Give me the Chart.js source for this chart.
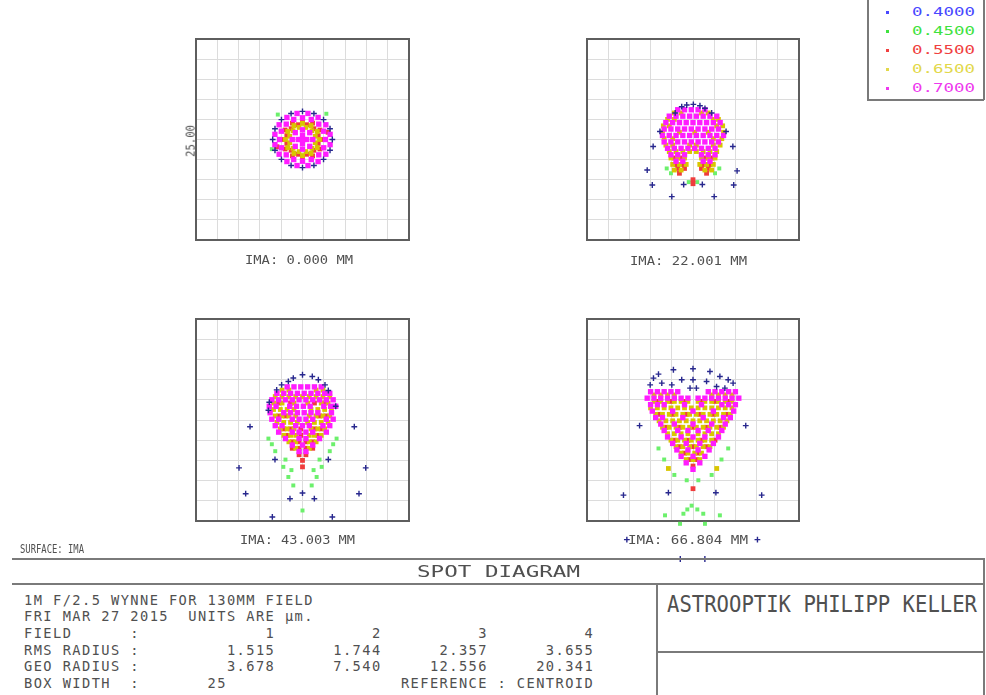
<!DOCTYPE html>
<html>
<head>
<meta charset="utf-8">
<script src="https://cdn.jsdelivr.net/npm/chart.js@4.4.1/dist/chart.umd.min.js"></script>
<style>
  html, body { margin: 0; padding: 0; background: #fff; }
  #page { position: relative; width: 986px; height: 695px; overflow: hidden; background: #fff; }
  canvas.spot { position: absolute; }
  .t { position: absolute; white-space: pre; font-family: "DejaVu Sans Mono", monospace; color: #505050; transform-origin: 0 50%; line-height: 1; }
  .rule { position: absolute; background: #7a7a7a; }
  .mk { position: absolute; }
</style>
</head>
<body>
<div id="page"></div>
<script>
// wavelengths (um) and field heights (mm)
const wavelengths = ['0.4000', '0.4500', '0.5500', '0.6500', '0.7000'];
const fieldHeights = ['0.000', '22.001', '43.003', '66.804'];
const fieldNumbers = [1, 2, 3, 4];
const rmsRadius = [1.515, 1.744, 2.357, 3.655];
const geoRadius = [3.678, 7.540, 12.556, 20.341];
const boxWidth = 25;

// ray intercepts in um, relative to the centroid
// field 1 (on axis)
const f1Blue = [[3.5,0],[3.23,1.34],[2.47,2.47],[1.34,3.23],[0,3.5],[-1.34,3.23],[-2.47,2.47],[-3.23,1.34],[-3.5,0],[-3.23,-1.34],[-2.47,-2.47],[-1.34,-3.23],[0,-3.5],[1.34,-3.23],[2.47,-2.47],[3.23,-1.34]];
const f1Green = [[-2.9,3.1],[2.8,3.2],[-3.6,-1.2]];
const f1Red = [[1.84,0.49],[1.34,1.34],[0.49,1.84],[-0.49,1.84],[-1.34,1.34],[-1.84,0.49],[-1.84,-0.49],[-1.34,-1.34],[-0.49,-1.84],[0.49,-1.84],[1.34,-1.34],[1.84,-0.49],[3.0,0.9],[-3.0,-0.9],
  [2.35,0],[2.04,1.18],[1.18,2.04],[0,2.35],[-1.18,2.04],[-2.04,1.18],[-2.35,0],[-2.04,-1.18],[-1.18,-2.04],[0,-2.35],[1.18,-2.04],[2.04,-1.18]];
const f1Yellow = [[2,0],[1.73,1],[1,1.73],[0,2],[-1,1.73],[-1.73,1],[-2,0],[-1.73,-1],[-1,-1.73],[0,-2],[1,-1.73],[1.73,-1],
  [1.5,0.4],[1.1,1.1],[0.4,1.5],[-0.4,1.5],[-1.1,1.1],[-1.5,0.4],[-1.5,-0.4],[-1.1,-1.1],[-0.4,-1.5],[0.4,-1.5],[1.1,-1.1],[1.5,-0.4]];
const f1Magenta = [[3.24,0.64],[2.74,1.83],[1.83,2.74],[0.64,3.24],[-0.64,3.24],[-1.83,2.74],[-2.74,1.83],[-3.24,0.64],[-3.24,-0.64],[-2.74,-1.83],[-1.83,-2.74],[-0.64,-3.24],[0.64,-3.24],[1.83,-2.74],[2.74,-1.83],[3.24,-0.64],
  [2.7,0],[2.49,1.03],[1.91,1.91],[1.03,2.49],[0,2.7],[-1.03,2.49],[-1.91,1.91],[-2.49,1.03],[-2.7,0],[-2.49,-1.03],[-1.91,-1.91],[-1.03,-2.49],[0,-2.7],[1.03,-2.49],[1.91,-1.91],[2.49,-1.03],
  [1.2,0],[0.85,0.85],[0,1.2],[-0.85,0.85],[-1.2,0],[-0.85,-0.85],[0,-1.2],[0.85,-0.85],[0.5,0],[0,0.5],[-0.5,0],[0,-0.5],[0,0]];

// field 2, dense parts stored as rows: [y, [x, ...]]
const f2Blue = [[-1.33,4.08],[-0.74,4.29],[0.04,4.37],[0.82,4.2],[1.41,3.88],[-2.1,3.3],[2.2,3.3],[-3.9,1.0],[3.9,1.0],[-4.7,-0.87],[4.7,-0.87],[-5.4,-3.8],[5.2,-3.9],[-4.8,-5.66],[4.8,-5.66],[-1.1,-5.6],[1.1,-5.6],[-2.5,-7.1],[2.5,-7.1]];
const f2Green = [[-2.6,-4.2],[2.6,-4.2],[-3.1,-3.6],[3.1,-3.6],[-0.5,-5.3],[0.5,-5.3]];
const f2RedRows = [[-2.3,[-2.2,-1.4,1.4,2.2]],[-3.1,[-2.0,-1.2,1.2,2.0]],[-3.6,[-1.8,-1.0,1.0,1.8]],[-4.2,[-1.6,1.6]],[-5.0,[0]],[-5.5,[0]]];
const f2YellowRows = [[3.3,[-2.2,-1.4,1.0,1.8]],[2.5,[-3.0,-2.2,2.4,3.0]],[1.7,[-3.5,-2.8,2.8,3.5]],[0.9,[-3.6,-1.6,0.2,1.8,3.6]],[0.1,[-3.4,-2.4,2.4,3.4]],[-0.7,[-3.2,-2.4,-0.4,0.4,2.4,3.2]],[-1.5,[-2.8,-2.0,-1.2,-0.4,0.4,1.2,2.0,2.8]],[-2.3,[-2.6,-1.8,-1.0,1.0,1.8,2.6]],[-3.1,[-2.4,-1.6,-0.8,0.8,1.6,2.4]],[-3.8,[-2.2,-1.4,1.4,2.2]]];
const f2MagentaRows = [[3.7,[-1.8,-1.0,-0.2,0.6,1.4]],[2.9,[-2.8,-2.0,-1.2,-0.4,0.4,1.2,2.0,2.8]],[2.1,[-3.2,-2.4,-1.6,-0.8,0,0.8,1.6,2.4,3.2]],[1.3,[-3.4,-2.6,-1.8,-1.0,-0.2,0.6,1.4,2.2,3.0]],[0.5,[-3.6,-2.8,-2.0,-1.2,-0.4,0.4,1.2,2.0,2.8,3.6]],[-0.3,[-3.4,-2.6,-1.8,-1.0,-0.2,0.6,1.4,2.2,3.0]],[-1.1,[-3.0,-2.2,-1.4,-0.6,0.2,1.0,1.8,2.6]],[-1.9,[-2.6,-1.8,-1.0,1.0,1.8,2.6]],[-2.7,[-2.0,-1.2,1.2,2.0]]];

// field 3
const f3Blue = [[0,5.6],[-1.08,5.19],[-1.66,4.77],[-2.45,4.35],[-3.03,3.73],[1.15,5.39],[1.86,4.98],[2.64,4.35],[3.03,3.65],[-3.9,2.2],[-4.0,1.2],[3.9,1.7],[-6.16,-0.83],[6.08,-0.83],[-7.45,-5.93],[7.42,-5.93],[-6.67,-9.12],[6.63,-9.12],[-1.47,-9.74],[0,-9.04],[1.39,-9.74],[-3.54,-12.0],[3.5,-12.0],[-3.23,-4.89],[3.03,-4.89]];
const f3Green = [[-4.0,-2.3],[-3.6,-3.0],[-3.2,-3.86],[-2.25,-5.8],[-1.66,-7.05],[-1.08,-8.1],[4.0,-2.3],[3.6,-3.0],[3.2,-3.86],[2.25,-5.8],[1.66,-7.05],[1.08,-8.1],[0,-11.2],[-2.0,-4.9],[2.0,-4.9],[-1.3,-6.2],[1.3,-6.2]];
const f3RedRows = [[2.1,[-2.8,-1.4,1.4,2.6]],[0.5,[-2.8,-2.0,2.0,2.8]],[-1.1,[-2.2,-1.4,-0.2,1.4,2.2]],[-1.9,[-1.8,-0.2,1.8]],[-2.7,[-1.2,-0.4,0.4,1.2]],[-3.5,[-1.2,-0.4,0.4,1.2]],[-4.3,[-0.4,0.4]],[-5.0,[0]],[-5.8,[0]]];
const f3YellowRows = [[3.7,[-2.4,-1.6,1.6,2.4]],[2.9,[-3.2,-2.4,-1.6,-0.8,0,0.8,1.6,2.4,3.2]],[2.1,[-3.4,-2.4,-1.0,0.6,2.2,3.0]],[1.3,[-3.4,-2.6,-1.8,-1.0,1.0,1.8,2.6,3.4]],[0.5,[-3.2,-2.4,-1.6,-0.8,0.8,1.6,2.4,3.2]],[-0.3,[-3.0,-2.2,-1.4,-0.6,0.6,1.4,2.2,3.0]],[-1.1,[-2.6,-1.8,-1.0,1.0,1.8,2.6]],[-1.9,[-2.2,-1.4,-0.8,0.8,1.4,2.2]],[-2.7,[-1.6,-0.8,0.8,1.6]],[-3.5,[-0.8,0.8]]];
const f3MagentaRows = [[4.1,[-1.8,-1.0,-0.2,0.6,1.4,2.2]],[3.3,[-3.0,-2.2,-1.4,-0.6,0.2,1.0,1.8,2.6,3.2]],[2.5,[-3.6,-2.8,-2.0,-1.2,-0.4,0.4,1.2,2.0,2.8,3.6]],[1.7,[-3.9,-3.1,-1.5,-0.7,0.1,0.9,2.5,3.3,3.9]],[0.9,[-3.8,-2.2,-1.4,-0.6,0.2,1.0,1.8,3.4]],[0.1,[-3.6,-2.8,-1.2,-0.4,0.4,1.2,2.8,3.6]],[-0.7,[-3.2,-2.4,-0.8,0,0.8,2.4,3.2]],[-1.5,[-2.8,-1.2,-0.4,0.4,1.2,2.8]],[-2.3,[-2.0,-0.4,0.4,2.0]],[-3.1,[-1.2,0,1.2]],[-3.9,[-0.4,0.4]]];

// field 4
const f4Blue = [[-4.66,5.18],[-4.07,5.68],[-2.31,6.22],[-3.68,4.56],[-2.5,4.35],[-5.05,4.35],[-1.33,4.98],[2.0,6.0],[3.17,5.39],[4.15,4.98],[4.73,4.56],[2.78,4.14],[3.76,3.94],[1.6,4.77],[0,6.34],[0,4.98],[-0.35,3.94],[0.4,3.94],[-6.3,-0.7],[6.22,-0.7],[-8.2,-9.3],[8.1,-9.3],[-2.9,-9.0],[2.7,-9.0],[-7.8,-14.8],[7.6,-14.8],[-1.5,-17.2],[1.4,-17.2]];
const f4Green = [[-4.07,-3.52],[-3.4,-4.89],[4.15,-3.52],[3.36,-4.89],[-0.74,-7.46],[0.63,-7.46],[-0.16,-10.6],[-0.67,-11.07],[0.51,-11.07],[-1.13,-11.6],[1.21,-11.6],[-3.3,-11.8],[3.17,-11.8],[-1.53,-12.85],[1.41,-12.85],[-2.2,-6.8],[2.2,-6.8]];
const f4RedRows = [[2.3,[-4.2,-2.6,-1.0,1.0,2.6,4.2]],[0.7,[-4.0,-2.4,-0.8,0.8,2.4,4.0]],[-0.9,[-3.2,-1.6,0,1.6,3.2]],[-2.5,[-2.2,-0.6,1.0,2.6]],[-3.3,[-1.6,0,1.6]],[-4.1,[-1.0,0.6]],[-4.9,[-0.4,0.4]],[-5.7,[0]],[-8.5,[0]]];
const f4YellowRows = [[3.1,[-4.6,-3.8,-3.0,-2.2,2.2,3.0,3.8,4.6]],[2.3,[-4.6,-3.8,-3.0,-2.2,-1.4,-0.6,0.6,1.4,2.2,3.0,3.8,4.6]],[1.5,[-5.0,-4.2,-3.4,-2.6,-1.8,-1.0,-0.2,0.6,1.4,2.2,3.0,3.8,4.6]],[0.7,[-4.4,-3.6,-2.8,-2.0,-1.2,-0.4,0.4,1.2,2.0,2.8,3.6,4.4]],[-0.1,[-4.0,-3.2,-2.4,-1.6,-0.8,0,0.8,1.6,2.4,3.2,4.0]],[-0.9,[-3.6,-2.8,-2.0,-1.2,-0.4,0.4,1.2,2.0,2.8,3.6]],[-1.7,[-3.0,-2.2,-1.4,-0.6,0.6,1.4,2.2,3.0]],[-2.5,[-2.6,-1.8,-1.0,-0.2,0.6,1.4,2.2]],[-3.3,[-2.0,-1.2,-0.4,0.4,1.2,2.0]],[-4.1,[-1.4,-0.6,0.2,1.0]],[-4.9,[-0.8,0,0.8]],[-6.0,[-2.9,2.8]]];
const f4MagentaRows = [[3.5,[-5.0,-4.2,-3.4,-2.6,-1.8,1.8,2.6,3.4,4.2,5.0]],[2.7,[-5.4,-4.6,-3.8,-3.0,-2.2,-1.4,-0.6,0.6,1.4,2.2,3.0,3.8,4.6,5.4]],[1.9,[-5.0,-4.2,-3.4,-1.0,1.0,3.4,4.2,5.0]],[1.1,[-4.8,-2.4,0,2.4,4.8]],[0.3,[-4.4,-3.6,-1.2,1.2,3.6,4.4]],[-0.5,[-3.8,-2.2,0,2.2,3.8]],[-1.3,[-3.4,-1.8,-0.6,0.6,1.8,3.4]],[-2.1,[-3.0,-1.4,0,1.4,3.0]],[-2.9,[-2.4,-0.8,0.8,2.4]],[-3.7,[-1.9,-0.6,0.6,1.9]],[-4.5,[-1.4,0,1.4]],[-5.3,[-0.8,0.8]],[-6.1,[0]]];

const xy = pts => pts.map(([x, y]) => ({ x, y }));
const rows = rs => rs.flatMap(([y, xs]) => xs.map(x => ({ x, y })));

const page = document.getElementById('page');
const PAD = 45;
const HALF = boxWidth / 2;

const panels = [
  { left: 196, top: 39, w: 213, h: 201, blue: xy(f1Blue), green: xy(f1Green), red: xy(f1Red), yellow: xy(f1Yellow), magenta: xy(f1Magenta) },
  { left: 587, top: 39, w: 212, h: 201, blue: xy(f2Blue), green: xy(f2Green), red: rows(f2RedRows), yellow: rows(f2YellowRows), magenta: rows(f2MagentaRows) },
  { left: 196, top: 319, w: 213, h: 202, blue: xy(f3Blue), green: xy(f3Green), red: rows(f3RedRows), yellow: rows(f3YellowRows), magenta: rows(f3MagentaRows) },
  { left: 587, top: 319, w: 212, h: 202, blue: xy(f4Blue), green: xy(f4Green), red: rows(f4RedRows), yellow: rows(f4YellowRows), magenta: rows(f4MagentaRows) }
];

const colors = { blue: '#28288e', green: '#6cf06c', red: '#f03c3c', yellow: '#d9c600', magenta: '#ff1cff' };
const legendColors = ['#4848ff', '#3ee23e', '#f04040', '#e2d84a', '#ee38ee'];

// square frame around each spot box
const boxFrame = {
  id: 'boxFrame',
  beforeDatasetsDraw(chart) {
    const { ctx, chartArea: a } = chart;
    ctx.save();
    ctx.strokeStyle = '#5e5e5e';
    ctx.lineWidth = 2;
    ctx.strokeRect(a.left, a.top, a.right - a.left, a.bottom - a.top);
    ctx.restore();
  }
};

// rays that land outside the box are still plotted (Chart.js skips them otherwise)
const spill = {
  id: 'spill',
  afterDatasetsDraw(chart) {
    const { ctx, chartArea: a } = chart;
    chart.getSortedVisibleDatasetMetas().slice().reverse().forEach(meta => {
      meta.data.forEach(pt => {
        if (pt.x < a.left || pt.x > a.right || pt.y < a.top || pt.y > a.bottom) pt.draw(ctx);
      });
    });
  }
};

function axis() {
  return {
    type: 'linear', min: -HALF, max: HALF,
    ticks: { display: false, stepSize: 2.5 },
    grid: { color: '#dcdcdc', lineWidth: 1, drawTicks: false },
    border: { display: false }
  };
}

panels.forEach(p => {
  const c = document.createElement('canvas');
  c.className = 'spot';
  c.width = p.w + 2 * PAD;
  c.height = p.h + 2 * PAD;
  c.style.left = (p.left - PAD) + 'px';
  c.style.top = (p.top - PAD) + 'px';
  c.style.width = c.width + 'px';
  c.style.height = c.height + 'px';
  page.appendChild(c);
  new Chart(c, {
    type: 'scatter',
    data: {
      datasets: [
        { label: wavelengths[0], data: p.blue, pointStyle: 'cross', pointRadius: 2.9, borderColor: colors.blue, borderWidth: 1.4, order: -1 },
        { label: wavelengths[1], data: p.green, pointStyle: 'rect', pointRadius: 2.8, backgroundColor: colors.green, borderWidth: 0, order: 3 },
        { label: wavelengths[2], data: p.red, pointStyle: 'rect', pointRadius: 3.4, backgroundColor: colors.red, borderWidth: 0, order: 2 },
        { label: wavelengths[3], data: p.yellow, pointStyle: 'rect', pointRadius: 3.4, backgroundColor: colors.yellow, borderWidth: 0, order: 1 },
        { label: wavelengths[4], data: p.magenta, pointStyle: 'rect', pointRadius: 3.8, backgroundColor: colors.magenta, borderWidth: 0, order: 0 }
      ]
    },
    options: {
      responsive: false, animation: false, devicePixelRatio: 1,
      layout: { padding: PAD },
      plugins: { legend: { display: false }, tooltip: { enabled: false } },
      scales: { x: axis(), y: axis() }
    },
    plugins: [boxFrame, spill]
  });
});

// text squeezed to a given width
function fitText(text, left, right, cy, cap, color) {
  const el = document.createElement('div');
  el.className = 't';
  const fs = cap / 0.73;
  el.style.fontSize = fs + 'px';
  el.textContent = text;
  page.appendChild(el);
  const w = el.getBoundingClientRect().width;
  el.style.left = left + 'px';
  el.style.top = (cy - fs * 0.48) + 'px';
  el.style.transform = 'scaleX(' + ((right - left) / w) + ')';
  if (color) el.style.color = color;
  return el;
}

// fixed-pitch line of the report block
function monoRow(text, left, cy, advance, cap) {
  const el = document.createElement('div');
  el.className = 't';
  const fs = cap / 0.73;
  el.style.fontSize = fs + 'px';
  el.style.letterSpacing = (advance - 0.602 * fs) + 'px';
  el.style.left = left + 'px';
  el.style.top = (cy - fs * 0.48) + 'px';
  el.textContent = text;
  page.appendChild(el);
}

function rule(x, y, w, h) {
  const d = document.createElement('div');
  d.className = 'rule';
  d.style.left = x + 'px'; d.style.top = y + 'px';
  d.style.width = w + 'px'; d.style.height = h + 'px';
  page.appendChild(d);
}

// field labels under each box
const labelPos = [[245, 353, 260], [630, 747, 261], [240, 355, 540], [628, 748, 540]];
fieldHeights.forEach((h, i) => {
  const [l, r, cy] = labelPos[i];
  fitText('IMA: ' + h + ' MM', l, r, cy, 9);
});

// box size along the first box's side
const side = fitText(boxWidth.toFixed(2), 0, 32, 0, 9);
side.style.left = (188 - 16) + 'px';
side.style.top = (141 - 13.5 * 0.48) + 'px';
side.style.transformOrigin = '50% 48%';
side.style.transform = 'rotate(-90deg) ' + side.style.transform;

// wavelength legend
rule(867, 0, 2, 100);
rule(867, 99, 117, 2);
rule(983, 0, 2, 100);
const legendY = [12, 31, 50, 69, 88];
wavelengths.forEach((wl, i) => {
  fitText(wl, 912, 975, legendY[i], 9, legendColors[i]);
  const m = document.createElement('div');
  m.className = 'mk';
  m.style.left = '886px'; m.style.top = (legendY[i] - 1.5) + 'px';
  m.style.width = '3px'; m.style.height = '3px';
  m.style.background = legendColors[i];
  page.appendChild(m);
});

// report frame
rule(983, 558, 2, 137);
rule(12, 558, 973, 2);
rule(12, 583, 973, 2);
rule(656, 584, 2, 111);
rule(657, 651, 327, 2);

fitText('SURFACE: IMA', 20, 84, 549, 9);
fitText('SPOT DIAGRAM', 417, 580, 572, 11);
fitText('ASTROOPTIK PHILIPP KELLER', 667, 977, 603, 17);

const p = (v, n) => String(v).padStart(n);
const reportRows = [
  '1M F/2.5 WYNNE FOR 130MM FIELD',
  'FRI MAR 27 2015  UNITS ARE \u00b5m.',
  'FIELD'.padEnd(11) + ':' + p(fieldNumbers[0], 14) + fieldNumbers.slice(1).map(v => p(v, 11)).join(''),
  'RMS RADIUS'.padEnd(11) + ':' + p(rmsRadius[0].toFixed(3), 14) + rmsRadius.slice(1).map(v => p(v.toFixed(3), 11)).join(''),
  'GEO RADIUS'.padEnd(11) + ':' + p(geoRadius[0].toFixed(3), 14) + geoRadius.slice(1).map(v => p(v.toFixed(3), 11)).join(''),
  'BOX WIDTH'.padEnd(11) + ':' + p(boxWidth, 9) + p('REFERENCE', 27) + ' : CENTROID'
];
const rowY = [601, 617, 634, 651, 667, 684];
reportRows.forEach((t, i) => monoRow(t, 24, rowY[i], 9.67, 10));
</script>
</body>
</html>
